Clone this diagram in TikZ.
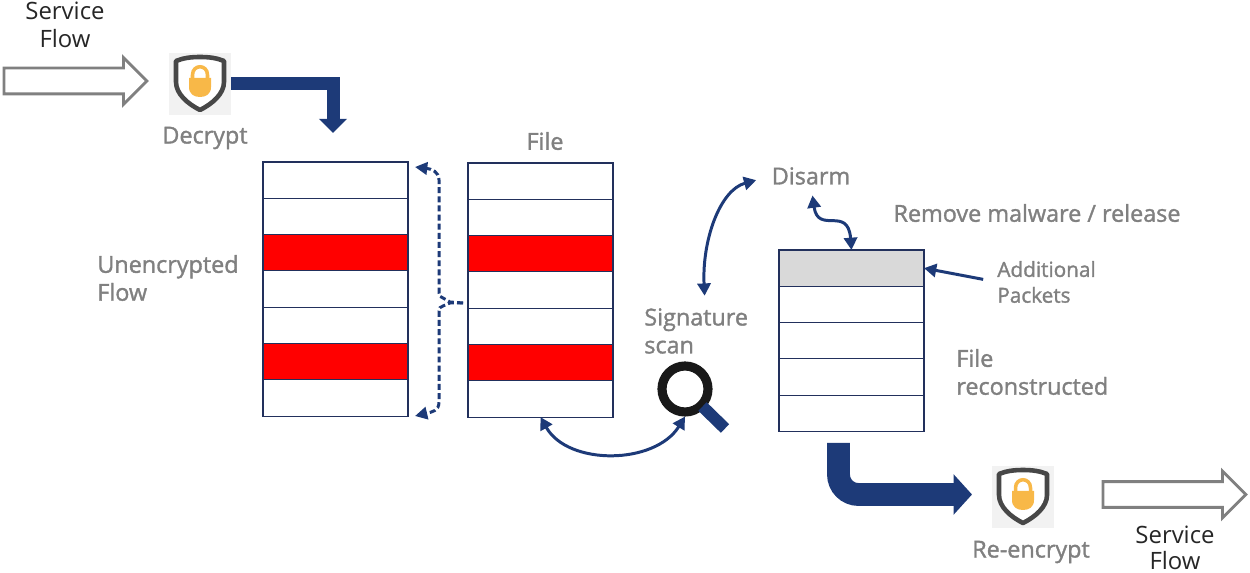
\documentclass[tikz,border=0pt]{standalone}
\usepackage{fontspec}
\setmainfont{Open Sans}
\newfontfamily\greyfont[FakeBold=1.4]{Open Sans}
\usetikzlibrary{arrows.meta,shapes.arrows}
\definecolor{flowblue}{RGB}{29,58,120}
\definecolor{flowgrey}{RGB}{128,128,128}
\definecolor{cellline}{RGB}{34,48,92}
\definecolor{lockorange}{RGB}{248,184,72}
\tikzset{
  cell/.style = {draw=cellline,line width=0.6pt,anchor=north west,inner sep=0pt,outer sep=0pt,minimum width=2.9cm,minimum height=0.726cm},
  blacklabel/.style = {text=black!85,font=\fontsize{13.6}{15.9}\selectfont,align=center,inner sep=0pt},
  greylabel/.style = {text=flowgrey,font=\greyfont\fontsize{13.3}{15.9}\selectfont,inner sep=0pt},
  hollowarrow/.style = {single arrow,draw=flowgrey,line width=1.6pt,fill=white,inner sep=0pt,minimum height=2.86cm,single arrow head extend=0.21cm,single arrow head indent=0cm},
  linkarrow/.style = {flowblue,line width=1.7pt,{Triangle[length=7pt,width=7.5pt]}-{Triangle[length=7pt,width=7.5pt]}},
  bracelink/.style = {flowblue,line width=1.7pt,dash pattern=on 3.4pt off 1.8pt,-{Triangle[length=7pt,width=7pt]}},
  shieldbox/.style = {fill=black!5,inner sep=0pt,minimum size=1.24cm},
  shieldicon/.pic = {
    \draw[black!72,line width=2.6pt,fill=white,line join=round] (0,-27) .. controls (-9,-27) and (-17,-26) .. (-24,-23) -- (-24,-2) .. controls (-24,10) and (-12,20) .. (0,26) .. controls (12,20) and (24,10) .. (24,-2) -- (24,-23) .. controls (17,-26) and (9,-27) .. (0,-27) -- cycle;
    \draw[lockorange,line width=2pt] (-7.5,-5) -- (-7.5,-9) .. controls (-7.5,-20) and (7.5,-20) .. (7.5,-9) -- (7.5,-5);
    \fill[lockorange] (-11,-6) -- (11,-6) -- (11,3) .. controls (11,10) and (6,13) .. (0,13) .. controls (-6,13) and (-11,10) .. (-11,3) -- cycle;
  },
}
\begin{document}
\begin{tikzpicture}[x=0.02cm,y=-0.02cm]
  \pgfmathsetmacro{\cellheight}{36.3}
  \useasboundingbox (0,0) rectangle (1250,573);
  % unencrypted flow and file
  \foreach \m/\colr in {1/white,2/white,3/red,4/white,5/white,6/red,7/white} {%
    \node[cell,fill=\colr] (leftcell\m) at (263,{162+(\m-1)*\cellheight}) {};
    \node[cell,fill=\colr] (midcell\m) at (468,{163+(\m-1)*\cellheight}) {};
  }
  % reconstructed file
  \foreach \m/\colr in {1/black!15,2/white,3/white,4/white,5/white} {%
    \node[cell,fill=\colr] (rightcell\m) at (779,{250+(\m-1)*\cellheight}) {};
  }
  % service flow in and out
  \node[hollowarrow] (flowin) at (69,81) {\rule{0pt}{0.46cm}};
  \node[hollowarrow] (flowout) at (1168,494.5) {\rule{0pt}{0.46cm}};
  \node[blacklabel] (flowintext) at (65,25) {Service\\Flow};
  \node[blacklabel,font=\fontsize{13.6}{14.7}\selectfont] (flowouttext) at (1175,548) {Service\\Flow};
  % shields
  \node[shieldbox] (decrypt) at (200,84) {};
  \pic at (decrypt) {shieldicon};
  \node[shieldbox] (reencrypt) at (1023,497) {};
  \pic at (reencrypt) {shieldicon};
  \node[greylabel] (decrypttext) at (205,138) {Decrypt};
  \node[greylabel] (reencrypttext) at (1031,552) {Re-encrypt};
  % labels
  \node[greylabel] (filetext) at (545,141) {File};
  \node[greylabel,align=left,anchor=west] (unenctext) at (97,278) {Unencrypted\\Flow};
  \node[greylabel] (disarm) at (811,176) {Disarm};
  \node[greylabel] (removetext) at (1037,213) {Remove malware / release};
  \node[greylabel,align=left,anchor=west] (sigscan) at (644,331) {Signature\\scan};
  \node[greylabel,align=left,anchor=west] (rebuilt) at (956,372) {File\\reconstructed};
  \node[greylabel,align=left,anchor=west,font=\greyfont\fontsize{11.8}{14.7}\selectfont] (addpackets) at (997,282) {Additional\\Packets};
  % block arrows
  \coordinate (decryptend) at (333,133);
  \draw[flowblue,line width=7.4pt,-{Triangle[length=8pt,width=15.5pt]}] (decrypt.east) -| (decryptend);
  \coordinate (rebuiltout) at (838.5,443);
  \coordinate (reencryptin) at (972,494.5);
  \draw[flowblue,line width=13pt,rounded corners=0.4cm,-{Triangle[length=10.5pt,width=22.5pt]}] (rebuiltout) |- (reencryptin);
  % magnifier
  \node[draw=black!90,circle,line width=5.2pt,inner sep=0pt,minimum size=0.92cm,fill=white] (lens) at (685,389) {};
  \draw[flowblue,line width=6.8pt,shorten <=-1.6pt] (lens.-45) -- (725,428.5);
  % links
  \draw[linkarrow] (midcell7.south) .. controls (568,466) and (655,465) .. (lens.south);
  \draw[linkarrow,shorten <=9pt,shorten >=7pt] (disarm.west) .. controls (720,190) and (702,240) .. ([xshift=0.18cm]sigscan.north);
  \draw[linkarrow,shorten <=6pt] (disarm.south) .. controls (818,235) and (848,205) .. (rightcell1.north);
  \draw[flowblue,line width=1.7pt,-{Triangle[length=7pt,width=7.5pt]},shorten <=8pt] (addpackets.west) -- (rightcell1.east);
  % brace
  \coordinate (bracetop) at (415,167);
  \coordinate (bracebottom) at (415,416);
  \coordinate (bracemid) at (463,303);
  \draw[bracelink] (bracemid) -- (450,302) -- (443,298) .. controls (440,297) and (439,296) .. (439,293) -- (439,180) .. controls (439,172) and (432,169) .. (bracetop);
  \draw[bracelink] (bracemid) -- (450,303) -- (443,306) .. controls (440,307) and (439,308) .. (439,311) -- (439,402) .. controls (439,411) and (432,412) .. (bracebottom);
\end{tikzpicture}
\end{document}
